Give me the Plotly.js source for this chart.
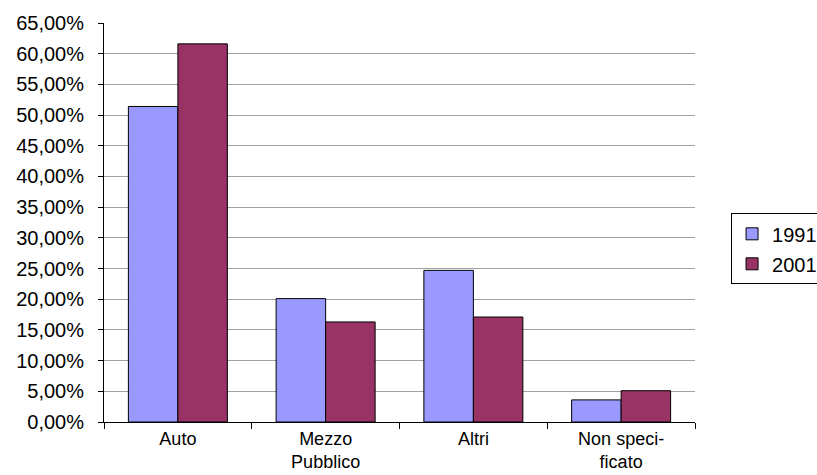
<!DOCTYPE html>
<html>
<head>
<meta charset="utf-8">
<script src="https://cdn.plot.ly/plotly-3.0.1.min.js"></script>
<style>
  html, body { margin: 0; padding: 0; background: #fff; }
  #chart { width: 817px; height: 475px; }
</style>
</head>
<body>
<div id="chart"></div>
<script>
// Modal split of trips, share by census year
const categories = ["Auto", "Mezzo<br>Pubblico", "Altri", "Non speci-<br>ficato"];
const share1991 = [0.514, 0.201, 0.247, 0.036];
const share2001 = [0.616, 0.163, 0.171, 0.051];
const yTickVals = [0, 0.05, 0.10, 0.15, 0.20, 0.25, 0.30, 0.35, 0.40, 0.45, 0.50, 0.55, 0.60, 0.65];
const yTickText = ["0,00%", "5,00%", "10,00%", "15,00%", "20,00%", "25,00%", "30,00%",
                   "35,00%", "40,00%", "45,00%", "50,00%", "55,00%", "60,00%", "65,00%"];

const font = { family: "Liberation Sans, Arial, sans-serif", size: 20, color: "#000" };
const xFont = { family: "Liberation Sans, Arial, sans-serif", size: 18, color: "#000" };

const traces = [
  { type: "bar", name: "1991", x: categories, y: share1991, legendgroup: "a",
    marker: { color: "#9999FF", line: { color: "#000", width: 1 } } },
  { type: "bar", name: "2001", x: categories, y: share2001, legendgroup: "b",
    marker: { color: "#993366", line: { color: "#000", width: 1 } } }
];

const layout = {
  width: 817, height: 475,
  paper_bgcolor: "#fff", plot_bgcolor: "#fff",
  font: font,
  margin: { l: 104, r: 122, t: 23, b: 53, autoexpand: false },
  barmode: "group",
  bargap: 0.33, bargroupgap: 0,
  showlegend: true,
  legend: {
    x: 1.061, y: 0.523, xanchor: "left", yanchor: "top",
    bordercolor: "#000", borderwidth: 1, bgcolor: "#fff",
    font: font, traceorder: "grouped", tracegroupgap: 1,
    itemwidth: 30
  },
  xaxis: {
    type: "category",
    showline: true, linecolor: "#000", linewidth: 1,
    ticks: "outside", tickson: "boundaries", ticklen: 6, tickcolor: "#000",
    showgrid: false, zeroline: false,
    tickfont: xFont, fixedrange: true
  },
  yaxis: {
    range: [0, 0.65],
    tickvals: yTickVals, ticktext: yTickText,
    showline: true, linecolor: "#000", linewidth: 1,
    ticks: "outside", ticklen: 5, tickcolor: "#000",
    ticklabelstandoff: 10,
    showgrid: true, gridcolor: "#a0a0a0", gridwidth: 1,
    zeroline: false, tickfont: font, fixedrange: true
  }
};

Plotly.newPlot("chart", traces, layout, { staticPlot: true, displayModeBar: false });
</script>
</body>
</html>
